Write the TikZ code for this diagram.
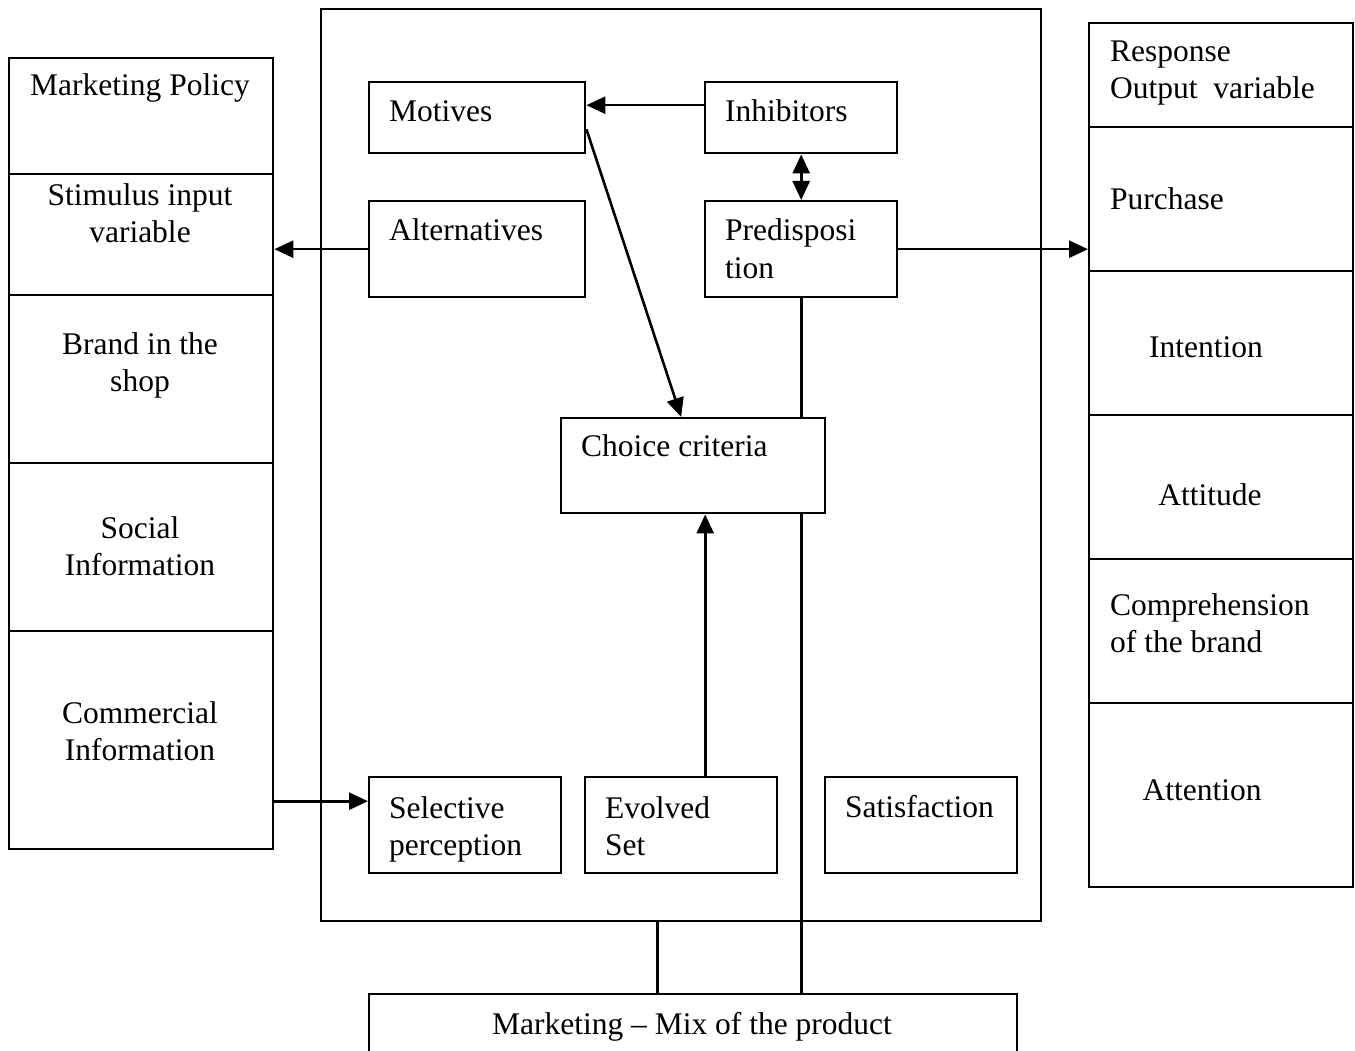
\documentclass[tikz,border=0pt]{standalone}
\usepackage{fontspec}
\setmainfont{Liberation Serif}
\usetikzlibrary{arrows.meta}
\begin{document}
\begin{tikzpicture}[x=1pt,y=-1pt,
  box/.style={draw, line width=2.4pt, inner sep=0pt, anchor=north west},
  txt/.style={inner sep=0pt, font=\fontsize{31.5}{37}\selectfont},
  lft/.style={txt, anchor=base west, align=left},
  ctr/.style={txt, anchor=base, align=center},
  conn/.style={line width=2.6pt},
  tip/.style={Triangle[length=19pt,width=17pt]},
  arr/.style={conn, -{Triangle[length=19pt,width=17pt]}},
  darr/.style={conn, {Triangle[length=19pt,width=17pt]}-{Triangle[length=19pt,width=17pt]}}]
\clip (0,0) rectangle (1355,1051);
\fill[white] (0,0) rectangle (1355,1051);

% central block
\node[box, minimum width=720, minimum height=912] (core) at (320,8) {};

% left column: stimulus input variables
\node[box, minimum width=264, minimum height=116] (pol)   at (8,57)  {};
\node[box, minimum width=264, minimum height=121] (stim)  at (8,173) {};
\node[box, minimum width=264, minimum height=168] (brand) at (8,294) {};
\node[box, minimum width=264, minimum height=168] (soc)   at (8,462) {};
\node[box, minimum width=264, minimum height=218] (comm)  at (8,630) {};
% (base anchor of a two-line node sits on its last line)
\node[ctr] (tpol)   at (140,96)  {Marketing Policy};
\node[ctr] (tstim)  at (140,243) {Stimulus input\\variable};
\node[ctr] (tbrand) at (140,391) {Brand in the\\shop};
\node[ctr] (tsoc)   at (140,575) {Social\\Information};
\node[ctr] (tcomm)  at (140,760) {Commercial\\Information};

% right column: response output variables
\node[box, minimum width=264, minimum height=104] (resp)  at (1088,22)  {};
\node[box, minimum width=264, minimum height=144] (purch) at (1088,126) {};
\node[box, minimum width=264, minimum height=144] (inten) at (1088,270) {};
\node[box, minimum width=264, minimum height=144] (att)   at (1088,414) {};
\node[box, minimum width=264, minimum height=144] (comp)  at (1088,558) {};
\node[box, minimum width=264, minimum height=184] (atn)   at (1088,702) {};
\node[lft] (tresp)  at (1110,99)  {Response\\Output\ \ variable};
\node[lft] (tpurch) at (1110,210) {Purchase};
\node[ctr] (tinten) at (1206,357) {Intention};
\node[ctr] (tatt)   at (1210,505) {Attitude};
\node[lft] (tcomp)  at (1110,652) {Comprehension\\of the brand};
\node[ctr] (tatn)   at (1202,800) {Attention};

% inner boxes
\node[box, minimum width=216, minimum height=71] (mot)  at (368,81)  {};
\node[box, minimum width=192, minimum height=71] (inh)  at (704,81)  {};
\node[box, minimum width=216, minimum height=96] (alt)  at (368,200) {};
\node[box, minimum width=192, minimum height=96] (pred) at (704,200) {};
\node[box, minimum width=264, minimum height=95] (cc)   at (560,417) {};
\node[box, minimum width=192, minimum height=96] (sel)  at (368,776) {};
\node[box, minimum width=192, minimum height=96] (ev)   at (584,776) {};
\node[box, minimum width=192, minimum height=96] (sat)  at (824,776) {};
\node[lft] (tmot)  at (389,122) {Motives};
\node[lft] (tinh)  at (725,122) {Inhibitors};
\node[lft] (talt)  at (389,241) {Alternatives};
\node[lft] (tpred) at (725,278) {Predisposi\\tion};
\node[lft] (tcc)   at (581,456) {Choice criteria};
\node[lft] (tsel)  at (389,855) {Selective\\perception};
\node[lft] (tev)   at (605,855) {Evolved\\Set};
\node[lft] (tsat)  at (845,817) {Satisfaction};

% marketing mix
\node[box, minimum width=648, minimum height=120] (mix) at (368,993) {};
\node[ctr] (tmix) at (692,1034) {Marketing -- Mix of the product};

% connectors
\draw[arr] ([yshift=12.5]inh.west) -- ([yshift=12.5]mot.east);
\draw[darr] (inh.south) -- (pred.north);
\draw[arr] ([yshift=-11.5]mot.east) -- ([xshift=-12]cc.north);
\draw[arr] (alt.west) -- (stim.east |- alt.west);
\draw[arr] (pred.east) -- (purch.west |- pred.east);
\coordinate (selin) at ([yshift=24]sel.west);
\draw[arr] (comm.east |- selin) -- (selin);
\coordinate (evtop) at ([xshift=24]ev.north);
\draw[arr] (evtop) -- (evtop |- cc.south);
\draw[conn] (pred.south) -- (pred.south |- cc.north);
\draw[conn] (pred.south |- cc.south) -- (pred.south |- mix.north);
\coordinate (corefoot) at ([xshift=-24]core.south);
\draw[conn] (corefoot) -- (corefoot |- mix.north);
\end{tikzpicture}
\end{document}
